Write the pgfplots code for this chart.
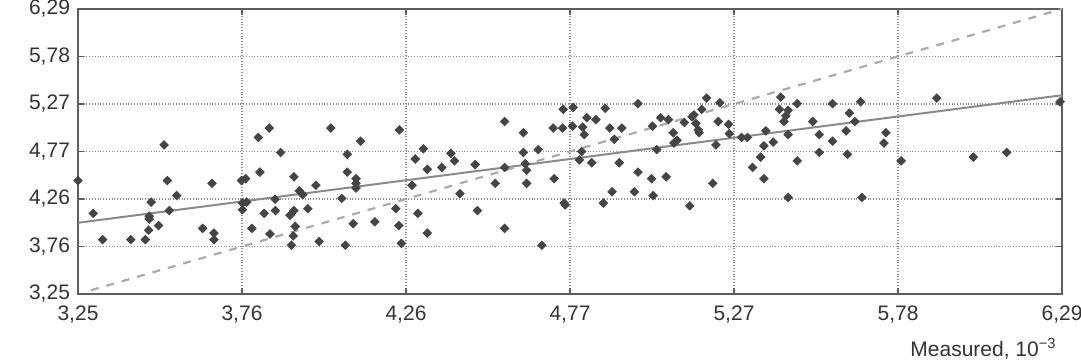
\documentclass[border=0pt]{standalone}
\usepackage{fontspec}
\setmainfont{Liberation Sans}
\usepackage{pgfplots}
\pgfplotsset{compat=1.18}
\definecolor{axisgray}{HTML}{5E5E5E}
\definecolor{gridgray}{HTML}{8C8C8C}
\definecolor{markgray}{HTML}{454545}
\definecolor{fitgray}{HTML}{8A8A8A}
\definecolor{dashgray}{HTML}{ABABAB}
\definecolor{labelgray}{HTML}{333333}
\begin{document}
\begin{tikzpicture}
\path[use as bounding box] (0,0) rectangle (540.5pt,180pt);
\begin{axis}[
  at={(39pt,33pt)}, anchor=south west,
  scale only axis, width=492pt, height=142.5pt,
  xmin=3.25, xmax=6.29, ymin=3.25, ymax=6.29,
  xtick={3.25,3.756667,4.263333,4.77,5.276667,5.783333,6.29},
  ytick={3.25,3.756667,4.263333,4.77,5.276667,5.783333,6.29},
  xticklabels={{3,25},{3,76},{4,26},{4,77},{5,27},{5,78},{6,29}},
  yticklabels={{3,25},{3,76},{4,26},{4,77},{5,27},{5,78},{6,29}},
  grid=major,
  grid style={densely dotted, gridgray, line width=0.9pt},
  axis line style={axisgray, line width=1.2pt},
  tick style={axisgray, line width=0.8pt},
  major tick length=3pt,
  tick align=inside,
  tick label style={font=\fontsize{10.5}{12}\selectfont, text=labelgray},
  xticklabel style={yshift=-2.5pt},
  yticklabel style={xshift=-0.5pt},
]
\addplot[only marks, mark=square*, mark size=1.5pt, mark options={rotate=45}, color=markgray] coordinates {
(3.25,4.46) (3.297,4.11) (3.326,3.83) (3.413,3.83) (3.458,3.83) (3.468,3.93)
(3.470,4.05) (3.470,4.08) (3.476,4.23) (3.499,3.98) (3.516,4.84) (3.526,4.46)
(3.532,4.14) (3.555,4.30) (3.635,3.95) (3.664,4.43) (3.670,3.90) (3.670,3.83)
(3.755,4.46) (3.768,4.48) (3.758,4.22) (3.758,4.15) (3.771,4.23) (3.787,3.95)
(3.807,4.92) (3.841,5.02) (3.812,4.55) (3.876,4.76) (3.825,4.11) (3.859,4.26)
(3.860,4.14) (3.843,3.89) (3.917,4.50) (3.934,4.35) (3.944,4.31) (3.905,4.09)
(3.917,4.14) (3.921,3.97) (3.915,3.87) (3.909,3.77) (3.960,4.16) (3.985,4.41)
(3.995,3.81) (4.031,5.02) (4.082,4.74) (4.082,4.55) (4.109,4.48) (4.109,4.43)
(4.109,4.38) (4.123,4.88) (4.065,4.27) (4.100,4.00) (4.076,3.77) (4.167,4.02)
(4.232,4.16) (4.241,3.98) (4.249,3.79) (4.243,5.00)
(4.282,4.41) (4.292,4.69) (4.300,4.11) (4.317,4.80) (4.329,4.58) (4.329,3.90)
(4.374,4.60) (4.402,4.75) (4.413,4.67) (4.430,4.32) (4.477,4.63) (4.484,4.14)
(4.539,4.43) (4.568,5.09) (4.568,4.60) (4.568,3.95) (4.626,4.97) (4.626,4.76)
(4.632,4.64) (4.636,4.57) (4.636,4.43) (4.672,4.79) (4.683,3.77) (4.718,5.02)
(4.721,4.48) (4.747,5.02) (4.749,5.22) (4.780,5.24) (4.778,5.04) (4.755,4.20)
(4.752,4.22) (4.799,4.68) (4.806,4.77) (4.809,5.03) (4.814,4.95) (4.822,5.13)
(4.837,4.65) (4.850,5.11) (4.873,4.22) (4.879,5.23) (4.893,5.02) (4.900,4.34)
(4.907,4.90) (4.922,4.65) (4.930,5.02) (4.969,4.34) (4.980,4.55) (4.980,5.28)
(5.022,4.48) (5.027,4.30) (5.025,5.04) (5.038,4.79) (5.050,5.13) (5.067,4.50)
(5.074,5.11) (5.089,4.97) (5.091,4.86) (5.101,4.89) (5.123,5.08) (5.140,4.19)
(5.147,5.14) (5.153,5.16) (5.159,5.07) (5.166,5.00) (5.169,4.97) (5.177,5.22)
(5.192,5.34) (5.211,4.43) (5.221,4.84) (5.228,5.09) (5.233,5.29) (5.260,5.06)
(5.262,4.96)
(5.300,4.92) (5.318,4.92) (5.334,4.60) (5.359,4.71) (5.369,4.83) (5.369,4.48)
(5.375,4.99) (5.398,4.87) (5.417,5.22) (5.421,5.35) (5.431,5.09) (5.437,5.15)
(5.444,5.21) (5.444,4.95) (5.444,4.28) (5.472,4.67) (5.472,5.28) (5.520,5.09)
(5.540,4.95) (5.540,4.76) (5.581,5.28) (5.581,4.88) (5.623,4.99) (5.627,4.74)
(5.633,5.18) (5.650,5.09) (5.668,5.30) (5.672,4.28) (5.740,4.86) (5.746,4.97)
(5.793,4.67) (5.903,5.34) (6.016,4.71) (6.119,4.76) (6.284,5.30)
};
\addplot[color=fitgray, line width=1pt] coordinates {(3.25,4.01) (6.29,5.37)};
\addplot[color=dashgray, line width=1.1pt, dash pattern=on 4pt off 4pt] coordinates {(3.29,3.29) (6.29,6.29)};
\end{axis}
\node[anchor=base west, inner sep=0pt, text=labelgray, font=\fontsize{10.5}{12}\selectfont] at (455pt,1.6pt) {Measured, 10\textsuperscript{−3}};
\end{tikzpicture}
\end{document}
